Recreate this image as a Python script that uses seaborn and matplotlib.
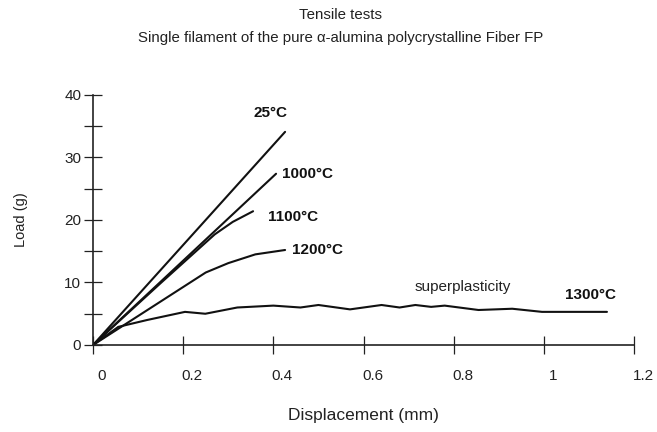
import pandas as pd
import matplotlib
matplotlib.use("Agg")
import matplotlib.pyplot as plt
import matplotlib.transforms as mtransforms
import seaborn as sns

# curves (displacement in mm, load in g)
disp_25 = [0, 0.426]
load_25 = [0, 34.1]
disp_1000 = [0, 0.406]
load_1000 = [0, 27.4]
disp_1100 = [0, 0.15, 0.27, 0.31, 0.355]
load_1100 = [0, 9.9, 17.7, 19.7, 21.4]
disp_1200 = [0, 0.25, 0.30, 0.36, 0.426]
load_1200 = [0, 11.6, 13.1, 14.5, 15.2]
disp_1300 = [0, 0.056, 0.12, 0.204, 0.249, 0.32, 0.40, 0.46, 0.50, 0.57,
             0.64, 0.68, 0.715, 0.75, 0.78, 0.855, 0.93, 0.996, 1.14]
load_1300 = [0, 2.9, 4.0, 5.3, 5.0, 6.0, 6.3, 6.0, 6.4, 5.7,
             6.4, 6.0, 6.4, 6.1, 6.3, 5.6, 5.8, 5.3, 5.3]

temps = ["25°C", "1000°C", "1100°C", "1200°C", "1300°C"]
curves = [(disp_25, load_25), (disp_1000, load_1000), (disp_1100, load_1100),
          (disp_1200, load_1200), (disp_1300, load_1300)]

# long form table
rows = []
for t, (xs, ys) in zip(temps, curves):
    for x, y in zip(xs, ys):
        rows.append({"temp": t, "disp": x, "load": y})
df = pd.DataFrame(rows)

sns.set_style("white")
plt.rcParams["font.family"] = ["Liberation Sans", "DejaVu Sans"]

fig = plt.figure(figsize=(6.57, 4.32), dpi=100)
ax = fig.add_axes([0.1416, 0.2014, 0.8234, 0.5787])

sns.lineplot(data=df, x="disp", y="load", hue="temp", units="temp",
             estimator=None, sort=False, palette=["#111111"] * 5,
             linewidth=1.5, legend=False, ax=ax)

ax.set_xlim(0, 1.2)
ax.set_ylim(0, 40)
ax.set_xticks([0, 0.2, 0.4, 0.6, 0.8, 1.0, 1.2])
ax.set_xticklabels(["0", "0.2", "0.4", "0.6", "0.8", "1", "1.2"])
ax.set_yticks([0, 10, 20, 30, 40])
ax.set_yticks([5, 15, 25, 35], minor=True)
ax.tick_params(axis="both", which="both", direction="inout", length=13,
               width=0.9, color="#222222", labelsize=11, labelcolor="#222222",
               left=True, bottom=True)
ax.tick_params(axis="x", pad=11)
ax.tick_params(axis="y", pad=2)
# x tick labels sit a little right of their ticks in the original
shift = mtransforms.ScaledTranslation(0.09, 0, fig.dpi_scale_trans)
for lab in ax.get_xticklabels():
    lab.set_transform(lab.get_transform() + shift)
for s in ["top", "right"]:
    ax.spines[s].set_visible(False)
for s in ["left", "bottom"]:
    ax.spines[s].set_color("#222222")
    ax.spines[s].set_linewidth(1.2)

ax.set_xlabel("Displacement (mm)", fontsize=12.5, labelpad=18, color="#222222")
ax.set_ylabel("Load (g)", fontsize=10.5, labelpad=26, color="#222222")

# curve labels
label_pos = {"25°C": (0.357, 37.1), "1000°C": (0.419, 27.4),
             "1100°C": (0.388, 20.5), "1200°C": (0.441, 15.2),
             "1300°C": (1.047, 8.0)}
for t, (x, y) in label_pos.items():
    ax.text(x, y, t, fontsize=11, fontweight="bold", va="center", ha="left",
            color="#111111")
ax.text(0.714, 9.3, "superplasticity", fontsize=11, va="center", ha="left",
        color="#222222")

fig.text(0.519, 0.965, "Tensile tests", ha="center", va="center", fontsize=10.8,
         color="#222222")
fig.text(0.519, 0.912, "Single filament of the pure α-alumina polycrystalline Fiber FP",
         ha="center", va="center", fontsize=10.8, color="#222222")

fig.savefig("out.png", dpi=100)
